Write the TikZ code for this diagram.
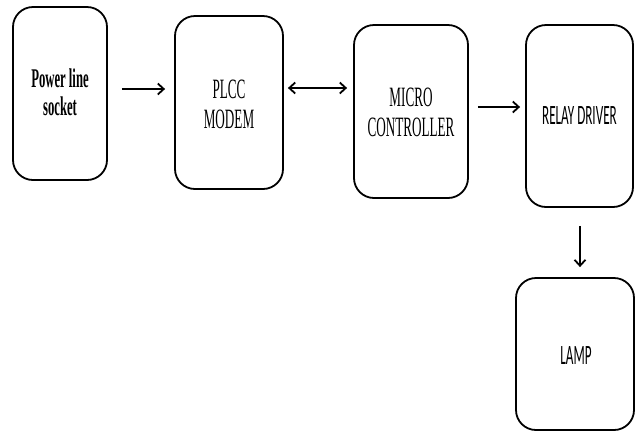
\documentclass[tikz,border=0pt]{standalone}
\usepackage{fontspec}
\usetikzlibrary{arrows.meta}
\newfontfamily\serifc[FakeStretch=0.47]{Liberation Serif}
\newfontfamily\sansc[FakeStretch=0.47]{Carlito}
\begin{document}
\begin{tikzpicture}[x=1pt,y=-1pt,
  blockbox/.style={draw=black, line width=1.8pt, rounded corners=20pt, inner sep=0pt},
  arr/.style={line width=1.8pt, -{Straight Barb[length=6pt,width=11pt,line width=1.8pt]}},
  dblarr/.style={line width=1.8pt, {Straight Barb[length=6pt,width=11pt,line width=1.8pt]}-{Straight Barb[length=6pt,width=11pt,line width=1.8pt]}},
  ser/.style={font=\serifc\fontsize{28}{30}\selectfont, align=center},
  san/.style={font=\sansc\fontsize{28}{30}\selectfont, align=center}]
\useasboundingbox (0,0) rectangle (635,432);
\node[blockbox, minimum width=94pt, minimum height=173pt] (b1) at (60,93.5) {};
\node[blockbox, minimum width=108pt, minimum height=173pt] (b2) at (229,102.5) {};
\node[blockbox, minimum width=114pt, minimum height=173pt] (b3) at (411,111.5) {};
\node[blockbox, minimum width=107pt, minimum height=182pt] (b4) at (579.5,116) {};
\node[blockbox, minimum width=118pt, minimum height=152pt] (b5) at (575,354) {};
\node[ser, font=\serifc\bfseries\fontsize{27}{28}\selectfont] (t1) at (60,92) {Power line\\socket};
\node[ser] (t2) at (229,104) {PLCC\\MODEM};
\node[ser] (t3) at (411,112) {MICRO\\CONTROLLER};
\node[san] (t4) at (579.5,116) {RELAY DRIVER};
\node[san] (t5) at (576,356) {LAMP};
\draw[arr, shorten <=14pt, shorten >=9pt] (b1.east |- 0,89) -- (b2.west |- 0,89);
\draw[dblarr, shorten <=4pt, shorten >=6pt] (b2.east |- 0,88) -- (b3.west |- 0,88);
\draw[arr, shorten <=9pt, shorten >=5pt] (b3.east |- 0,107) -- (b4.west |- 0,107);
\draw[arr, line width=1.3pt, shorten <=18pt, shorten >=10pt] (b4.south -| 580,0) -- (b5.north -| 580,0);
\end{tikzpicture}
\end{document}
